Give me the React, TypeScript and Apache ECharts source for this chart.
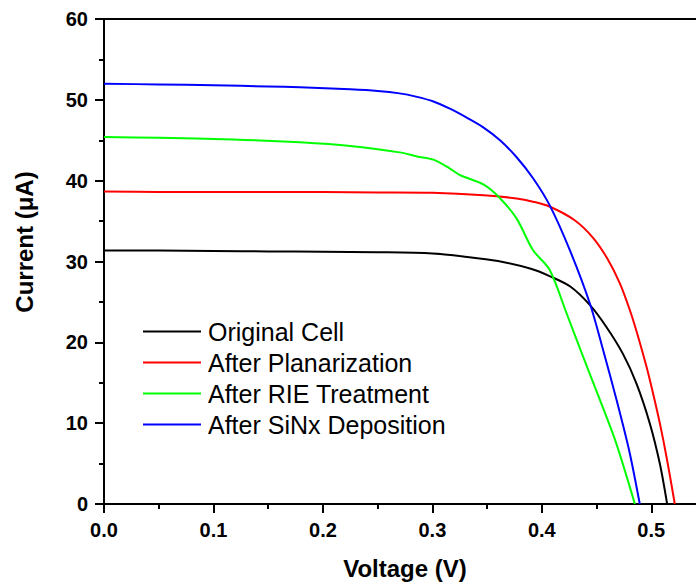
import React, { useEffect, useRef } from "react";
import * as echarts from "echarts";

const seriesNames = ["Original Cell", "After Planarization", "After RIE Treatment", "After SiNx Deposition"];
const seriesColors = ["#000000", "#ff0000", "#00ff00", "#0000ff"];

const originalV = [0, 0.05, 0.1, 0.15, 0.2, 0.25, 0.3, 0.33, 0.36, 0.39, 0.407, 0.426, 0.444, 0.459, 0.474, 0.4865, 0.4986, 0.5078, 0.5145];
const originalI = [31.35, 31.35, 31.3, 31.25, 31.2, 31.15, 31.0, 30.6, 30.05, 29.1, 28.2, 26.9, 24.6, 21.9, 18.6, 14.9, 10.0, 5.0, 0];

const planarV = [0, 0.05, 0.1, 0.15, 0.2, 0.25, 0.3, 0.347, 0.377, 0.392, 0.407, 0.43, 0.447, 0.4606, 0.4713, 0.4804, 0.488, 0.4956, 0.5016, 0.5078, 0.5139, 0.5215];
const planarI = [38.65, 38.6, 38.6, 38.6, 38.6, 38.55, 38.5, 38.2, 37.8, 37.4, 36.8, 35.1, 32.9, 30.2, 27.3, 24.0, 20.7, 17.0, 13.7, 10.0, 5.85, 0];

const rieV = [0, 0.05, 0.118, 0.179, 0.225, 0.27, 0.286, 0.301, 0.316, 0.325, 0.347, 0.362, 0.377, 0.392, 0.407, 0.4226, 0.4378, 0.453, 0.468, 0.485];
const rieI = [45.4, 45.3, 45.1, 44.75, 44.3, 43.5, 43.0, 42.6, 41.5, 40.7, 39.5, 37.8, 35.3, 31.4, 29.0, 23.6, 18.2, 12.9, 7.5, 0];

const sinxV = [0, 0.05, 0.1, 0.15, 0.179, 0.225, 0.25, 0.27, 0.285, 0.301, 0.316, 0.3314, 0.3465, 0.3618, 0.377, 0.392, 0.407, 0.4256, 0.4439, 0.456, 0.4683, 0.48, 0.4895];
const sinxI = [52.0, 51.9, 51.8, 51.65, 51.55, 51.3, 51.1, 50.8, 50.4, 49.8, 48.9, 47.8, 46.6, 45.0, 42.9, 40.3, 37.0, 31.4, 24.8, 19.05, 12.87, 6.5, 0];

const xTitle = "Voltage (V)";
const yTitle = "Current (\u03bcA)";

const FONT = "'Liberation Sans', Arial, Helvetica, sans-serif";

function pairs(v: number[], i: number[]) {
  return v.map((x, k) => [x, i[k]]);
}

export default function App() {
  const ref = useRef<HTMLDivElement>(null);
  useEffect(() => {
    if (!ref.current) return;
    const chart = echarts.init(ref.current, undefined, { renderer: "svg" });
    const allV = [originalV, planarV, rieV, sinxV];
    const allI = [originalI, planarI, rieI, sinxI];
    chart.setOption({
      animation: false,
      backgroundColor: "#ffffff",
      grid: {
        left: 104,
        top: 19,
        right: -10,
        bottom: 83,
        show: true,
        borderColor: "#000",
        borderWidth: 2,
        outerBoundsMode: "none",
      },
      legend: {
        orient: "vertical",
        left: 143,
        top: 319,
        padding: 0,
        itemGap: 6,
        itemWidth: 58,
        itemHeight: 2,
        icon: "rect",
        data: seriesNames,
        textStyle: { fontFamily: FONT, fontSize: 25, color: "#000", padding: [0, 0, 0, 2] },
      },
      xAxis: {
        type: "value",
        min: 0,
        max: 0.55,
        interval: 0.1,
        name: xTitle,
        nameLocation: "middle",
        nameGap: 52,
        nameTextStyle: { fontFamily: FONT, fontSize: 24, fontWeight: "bold", color: "#000" },
        axisLine: { onZero: false, lineStyle: { color: "#000", width: 2 } },
        axisTick: { inside: false, length: 9, lineStyle: { color: "#000", width: 2 } },
        minorTick: { show: true, splitNumber: 2, length: 5, lineStyle: { color: "#000", width: 2 } },
        axisLabel: {
          margin: 16,
          showMaxLabel: false,
          fontFamily: FONT,
          fontSize: 20,
          fontWeight: "bold",
          color: "#000",
          formatter: (v: number) => v.toFixed(1),
        },
        splitLine: { show: false },
      },
      yAxis: {
        type: "value",
        min: 0,
        max: 60,
        interval: 10,
        axisLine: { onZero: false, lineStyle: { color: "#000", width: 2 } },
        axisTick: { inside: false, length: 9, lineStyle: { color: "#000", width: 2 } },
        minorTick: { show: true, splitNumber: 2, length: 5, lineStyle: { color: "#000", width: 2 } },
        axisLabel: {
          margin: 16,
          fontFamily: FONT,
          fontSize: 20,
          fontWeight: "bold",
          color: "#000",
        },
        splitLine: { show: false },
      },
      graphic: [
        {
          type: "text",
          x: 24,
          y: 242,
          rotation: Math.PI / 2,
          style: {
            text: yTitle,
            fontFamily: FONT,
            fontSize: 24,
            fontWeight: "bold",
            fill: "#000",
            align: "center",
            verticalAlign: "middle",
          },
        },
      ],
      series: seriesNames.map((name, k) => ({
        name,
        type: "line",
        data: pairs(allV[k], allI[k]),
        showSymbol: false,
        symbol: "none",
        smooth: 0.3,
        lineStyle: { color: seriesColors[k], width: 2 },
        itemStyle: { color: seriesColors[k] },
      })),
    });
    return () => chart.dispose();
  }, []);
  return (
    <div
      ref={ref}
      style={{ position: "absolute", left: 0, top: 0, width: 696, height: 587 }}
    />
  );
}
